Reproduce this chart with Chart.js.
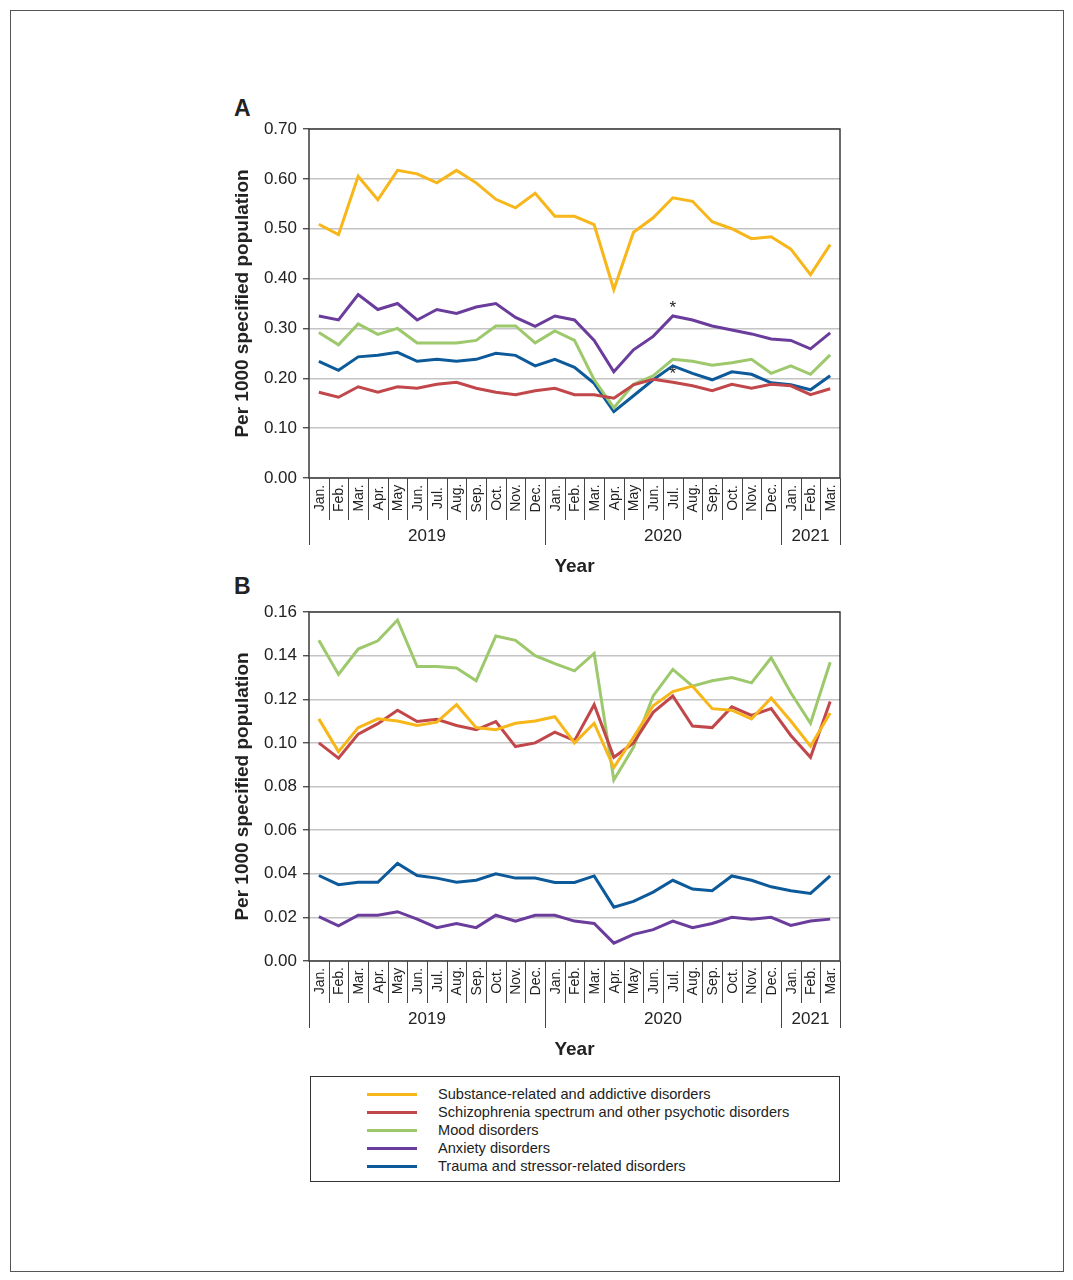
<!DOCTYPE html>
<html>
<head>
<meta charset="utf-8">
<script src="https://cdn.jsdelivr.net/npm/chart.js@4.4.1/dist/chart.umd.min.js"></script>
<style>
  body { margin: 0; background: #fff; font-family: "Liberation Sans", Arial, sans-serif; color: #222; }
  #page { position: relative; width: 1073px; height: 1280px; }
  #frame { position: absolute; left: 10px; top: 10px; width: 1052px; height: 1260px; border: 1px solid #555; }
  .panel-letter { position: absolute; font-weight: bold; font-size: 23px; line-height: 23px; }
  canvas { position: absolute; }
  #legend { position: absolute; left: 310px; top: 1076px; width: 530px; height: 106px; border: 1px solid #333; box-sizing: border-box; }
  .lg-row { position: absolute; left: 0; height: 18px; width: 100%; }
  .lg-line { position: absolute; left: 56px; top: 8px; width: 50px; height: 3px; }
  .lg-text { position: absolute; left: 127px; top: 0; font-size: 14.6px; line-height: 18px; white-space: nowrap; }
</style>
</head>
<body>
<div id="page">
  <div id="frame"></div>
  <div class="panel-letter" style="left:234px; top:97px;">A</div>
  <div class="panel-letter" style="left:234px; top:575px;">B</div>
  <canvas id="chart-a" width="670" height="500" style="left:200px; top:80px;"></canvas>
  <canvas id="chart-b" width="670" height="500" style="left:200px; top:563px;"></canvas>
  <div id="legend"></div>
</div>
<script>
// ---- categories ----
const MONTHS = ['Jan.','Feb.','Mar.','Apr.','May','Jun.','Jul.','Aug.','Sep.','Oct.','Nov.','Dec.',
                'Jan.','Feb.','Mar.','Apr.','May','Jun.','Jul.','Aug.','Sep.','Oct.','Nov.','Dec.',
                'Jan.','Feb.','Mar.'];
const YEARS     = ['2019', '2020', '2021'];
const YEAR_SPAN = [12, 12, 3];

const SERIES_NAMES = ['Substance-related and addictive disorders',
                      'Schizophrenia spectrum and other psychotic disorders',
                      'Mood disorders',
                      'Anxiety disorders',
                      'Trauma and stressor-related disorders'];
const SERIES_COLORS = ['#F7B619', '#C1474B', '#9DC86C', '#6A3C9C', '#0D5A9B'];

// ---- panel A ----
const SUBSTANCE_A = [0.509,0.488,0.605,0.558,0.617,0.610,0.592,0.617,0.592,0.559,0.542,0.571,
                     0.525,0.525,0.508,0.378,0.493,0.522,0.562,0.555,0.514,0.500,0.480,0.484,
                     0.459,0.408,0.468];
const SCHIZO_A    = [0.172,0.162,0.183,0.172,0.183,0.180,0.188,0.192,0.180,0.172,0.167,0.175,
                     0.180,0.167,0.167,0.160,0.187,0.198,0.192,0.185,0.175,0.188,0.180,0.188,
                     0.185,0.167,0.179];
const MOOD_A      = [0.292,0.267,0.309,0.288,0.300,0.271,0.271,0.271,0.276,0.305,0.305,0.271,
                     0.295,0.276,0.197,0.141,0.188,0.205,0.238,0.234,0.226,0.231,0.238,0.210,
                     0.225,0.208,0.247];
const ANXIETY_A   = [0.325,0.317,0.368,0.338,0.350,0.317,0.338,0.330,0.343,0.350,0.322,0.304,
                     0.325,0.317,0.276,0.213,0.257,0.284,0.325,0.317,0.305,0.297,0.289,0.279,
                     0.276,0.259,0.291];
const TRAUMA_A    = [0.234,0.216,0.243,0.246,0.252,0.234,0.238,0.234,0.238,0.250,0.246,0.225,
                     0.238,0.222,0.190,0.133,0.165,0.197,0.225,0.210,0.197,0.213,0.208,0.191,
                     0.187,0.177,0.205];

// ---- panel B ----
const SUBSTANCE_B = [0.111,0.096,0.107,0.111,0.110,0.108,0.1095,0.1175,0.107,0.106,0.109,0.110,
                     0.112,0.100,0.109,0.0887,0.1026,0.117,0.1235,0.126,0.1157,0.115,0.111,0.1206,
                     0.110,0.0985,0.1137];
const SCHIZO_B    = [0.100,0.093,0.104,0.1088,0.115,0.1098,0.1108,0.108,0.106,0.1098,0.0983,0.100,
                     0.1049,0.101,0.1175,0.0934,0.100,0.114,0.1215,0.1077,0.107,0.1165,0.1126,0.1157,
                     0.1034,0.0934,0.119];
const MOOD_B      = [0.147,0.1314,0.143,0.1468,0.1563,0.135,0.135,0.1343,0.1285,0.149,0.147,0.140,
                     0.1363,0.133,0.141,0.083,0.098,0.1215,0.1337,0.126,0.1285,0.130,0.1275,0.139,
                     0.123,0.109,0.137];
const ANXIETY_B   = [0.0203,0.0161,0.021,0.021,0.0226,0.0192,0.0153,0.0172,0.0153,0.021,0.0183,0.021,
                     0.021,0.0183,0.0172,0.0082,0.0122,0.0144,0.0183,0.0153,0.0172,0.020,0.0192,0.020,
                     0.0163,0.0183,0.0192];
const TRAUMA_B    = [0.0392,0.035,0.0361,0.0361,0.0447,0.0392,0.038,0.0361,0.037,0.040,0.038,0.038,
                     0.036,0.036,0.039,0.0247,0.0273,0.0316,0.037,0.033,0.0322,0.039,0.037,0.034,
                     0.0322,0.031,0.039];

// asterisks in panel A: [series index, month index]
const STARS_A = [[3, 18], [1, 18]];

const FONT = '"Liberation Sans", Arial, sans-serif';

// frame, month/year grouping under the x axis, and asterisks
const axisDeco = {
  id: 'axisDeco',
  afterDraw(chart, args, opts) {
    const { ctx, chartArea: a, scales: { x } } = chart;
    ctx.save();
    ctx.strokeStyle = '#3a3a3a';
    ctx.lineWidth = 1.5;
    ctx.strokeRect(a.left, a.top, a.right - a.left, a.bottom - a.top);

    const n    = MONTHS.length;
    const step = x.getPixelForValue(1) - x.getPixelForValue(0);
    const edge = i => i < n ? x.getPixelForValue(i) - step / 2 : x.getPixelForValue(n - 1) + step / 2;

    ctx.strokeStyle = '#444';
    ctx.lineWidth = 1;
    for (let i = 0; i <= n; i++) {
      const bx = Math.round(edge(i)) + 0.5;
      ctx.beginPath(); ctx.moveTo(bx, a.bottom); ctx.lineTo(bx, a.bottom + 42); ctx.stroke();
    }
    let start = 0;
    const bounds = [0];
    YEAR_SPAN.forEach(s => { start += s; bounds.push(start); });
    bounds.forEach(b => {
      const bx = Math.round(edge(b)) + 0.5;
      ctx.beginPath(); ctx.moveTo(bx, a.bottom); ctx.lineTo(bx, a.bottom + 67); ctx.stroke();
    });

    ctx.fillStyle = '#222';
    ctx.font = '14px ' + FONT;
    ctx.textAlign = 'center';
    ctx.textBaseline = 'middle';
    MONTHS.forEach((m, i) => {
      ctx.save();
      ctx.translate(x.getPixelForValue(i) + 1, a.bottom + 20);
      ctx.rotate(-Math.PI / 2);
      ctx.fillText(m, 0, 0);
      ctx.restore();
    });
    ctx.font = '17px ' + FONT;
    YEARS.forEach((y, k) => {
      const cx = (edge(bounds[k]) + edge(bounds[k + 1])) / 2;
      ctx.fillText(y, cx, a.bottom + 58);
    });

    (opts.stars || []).forEach(([s, i]) => {
      const p = chart.getDatasetMeta(s).data[i];
      ctx.font = '17px ' + FONT;
      ctx.fillText('*', p.x, p.y - 8);
    });
    ctx.restore();
  }
};

function makeChart(id, series, yMax, yStep, stars) {
  const ctx = document.getElementById(id).getContext('2d');
  return new Chart(ctx, {
    type: 'line',
    data: {
      labels: MONTHS,
      datasets: series.map((d, k) => ({
        label: SERIES_NAMES[k], data: d,
        borderColor: SERIES_COLORS[k], backgroundColor: SERIES_COLORS[k],
        borderWidth: 3, pointRadius: 0, tension: 0, fill: false
      }))
    },
    options: {
      responsive: false,
      animation: false,
      layout: { padding: { top: 49, right: 30, left: 0, bottom: 0 } },
      plugins: {
        legend: { display: false },
        tooltip: { enabled: false },
        axisDeco: { stars: stars }
      },
      scales: {
        x: {
          offset: true,
          grid: { display: false },
          border: { display: false },
          ticks: { display: false },
          afterFit: s => { s.height = 102; },
          title: { display: true, text: 'Year', color: '#222',
                   font: { family: FONT, size: 19, weight: 'bold' }, padding: { top: 0, bottom: 2 } }
        },
        y: {
          min: 0, max: yMax,
          grid: { color: '#c4c4c4', lineWidth: 1.5, tickColor: '#333', tickLength: 6, tickWidth: 1.2 },
          border: { display: false },
          ticks: { stepSize: yStep, padding: 6, color: '#222', font: { family: FONT, size: 17 },
                   callback: v => Number(v).toFixed(2) },
          afterFit: s => { s.width = 109; },
          title: { display: true, text: 'Per 1000 specified population', color: '#222',
                   font: { family: FONT, size: 19, weight: 'bold' }, padding: { top: 31, bottom: 0 } }
        }
      }
    },
    plugins: [axisDeco]
  });
}

makeChart('chart-a', [SUBSTANCE_A, SCHIZO_A, MOOD_A, ANXIETY_A, TRAUMA_A], 0.7, 0.1, STARS_A);
makeChart('chart-b', [SUBSTANCE_B, SCHIZO_B, MOOD_B, ANXIETY_B, TRAUMA_B], 0.16, 0.02, []);

// legend
const legend = document.getElementById('legend');
SERIES_NAMES.forEach((name, k) => {
  const row = document.createElement('div');
  row.className = 'lg-row';
  row.style.top = (8 + k * 18) + 'px';
  row.innerHTML = `<div class="lg-line" style="background:${SERIES_COLORS[k]}"></div>
                   <div class="lg-text">${name}</div>`;
  legend.appendChild(row);
});
</script>
</body>
</html>
